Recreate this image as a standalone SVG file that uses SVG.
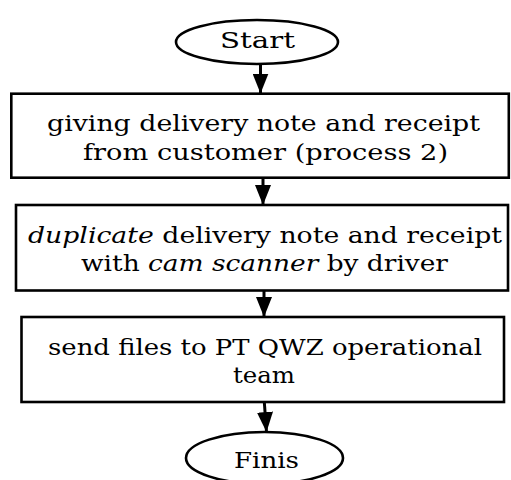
<svg xmlns="http://www.w3.org/2000/svg" width="511" height="480" viewBox="0 0 511 480">
  <style>
    .shape { fill: #ffffff; stroke: #000000; stroke-width: 2.6; }
    .label { font-family: "DejaVu Serif", "Liberation Serif", serif; font-size: 22px; fill: #000000; text-anchor: middle; }
    .em { font-style: italic; }
    .flow { stroke: #000000; stroke-width: 3; fill: none; }
  </style>
  <defs>
    <marker id="arrow" markerUnits="userSpaceOnUse" markerWidth="20" markerHeight="16" refX="20" refY="8" orient="auto" viewBox="0 0 20 16">
      <path d="M0,0 L20,8 L0,16 Z" fill="#000000"/>
    </marker>
  </defs>
  <rect width="511" height="480" fill="#ffffff"/>

  <g id="connectors">
    <line class="flow" x1="260.5" y1="64" x2="260.5" y2="93.5" marker-end="url(#arrow)"/>
    <line class="flow" x1="263" y1="178" x2="263" y2="205" marker-end="url(#arrow)"/>
    <line class="flow" x1="264" y1="291" x2="264" y2="317" marker-end="url(#arrow)"/>
    <line class="flow" x1="264.3" y1="402" x2="266.5" y2="432" marker-end="url(#arrow)"/>
  </g>

  <g id="start">
    <ellipse class="shape" cx="257" cy="42" rx="81" ry="22"/>
    <text class="label" x="257.5" y="48" textLength="75" lengthAdjust="spacingAndGlyphs">Start</text>
  </g>

  <g id="step-giving">
    <rect class="shape" x="11.3" y="93.7" width="497.5" height="84"/>
    <text class="label" x="263.5" y="131" textLength="433" lengthAdjust="spacingAndGlyphs">giving delivery note and receipt</text>
    <text class="label" x="265.5" y="160" textLength="365" lengthAdjust="spacingAndGlyphs">from customer (process 2)</text>
  </g>

  <g id="step-duplicate">
    <rect class="shape" x="16" y="205" width="492" height="85.5"/>
    <text class="label" x="265" y="243" textLength="474" lengthAdjust="spacingAndGlyphs"><tspan class="em">duplicate</tspan> delivery note and receipt</text>
    <text class="label" x="264.5" y="271" textLength="367" lengthAdjust="spacingAndGlyphs">with <tspan class="em">cam scanner</tspan> by driver</text>
  </g>

  <g id="step-send">
    <rect class="shape" x="21.5" y="317" width="482.5" height="85"/>
    <text class="label" x="265" y="355" textLength="434" lengthAdjust="spacingAndGlyphs">send files to PT QWZ operational</text>
    <text class="label" x="264" y="383" textLength="62" lengthAdjust="spacingAndGlyphs">team</text>
  </g>

  <g id="finish">
    <ellipse class="shape" cx="264.5" cy="458" rx="78.5" ry="26"/>
    <text class="label" x="266.5" y="468" textLength="65" lengthAdjust="spacingAndGlyphs">Finis</text>
  </g>
</svg>
